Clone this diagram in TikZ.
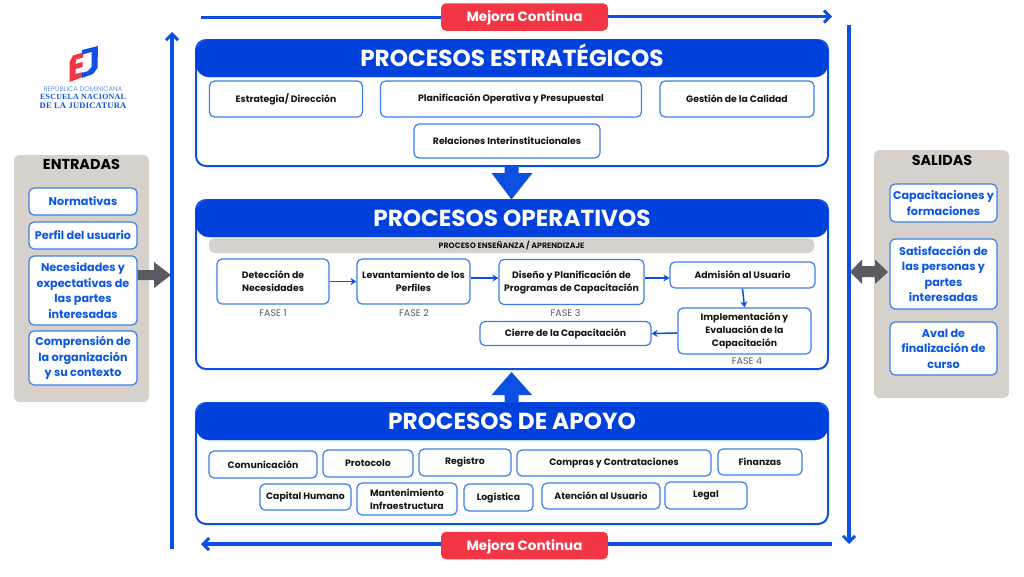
\documentclass[tikz,border=0pt]{standalone}
\usepackage{fontspec}
\setmainfont{Poppins}
\newfontfamily\logofont[LetterSpace=3]{Liberation Serif}
\definecolor{hdr}{HTML}{0041DC}
\definecolor{bord}{HTML}{0B50E2}
\definecolor{inner}{HTML}{3C7DEE}
\definecolor{graypanel}{HTML}{D6D1CB}
\definecolor{darkarrow}{HTML}{5A5A60}
\definecolor{redbtn}{HTML}{F23645}
\definecolor{bluetxt}{HTML}{0B57E3}
\definecolor{inktxt}{HTML}{151515}
\definecolor{logoblue}{HTML}{1050E0}
\usetikzlibrary{arrows.meta}
\newcommand{\hdrtext}[1]{\raisebox{-8pt}[0pt][0pt]{#1}}
\newcommand{\btntext}[1]{\raisebox{-4.7pt}[0pt][0pt]{#1}}
\tikzset{
  panel/.style={draw=bord,line width=2pt,fill=white,rounded corners=10pt,inner sep=0pt},
  header/.style={fill=hdr,text=white,inner sep=0pt,font=\fontsize{23.2}{26}\selectfont\bfseries},
  box/.style={draw=inner,line width=1.2pt,fill=white,rounded corners=5pt,inner sep=0pt,align=center,text=inktxt,font=\fontsize{9.3}{13}\selectfont\bfseries},
  sidebox/.style={draw=inner,line width=1.2pt,fill=white,rounded corners=5pt,inner sep=0pt,align=center,text=bluetxt,font=\fontsize{11.2}{15.5}\selectfont\bfseries},
  sidepanel/.style={fill=graypanel,rounded corners=6pt,inner sep=0pt},
  sidetitle/.style={text=black,inner sep=0pt,font=\fontsize{14.4}{16}\selectfont\bfseries},
  btn/.style={fill=redbtn,rounded corners=5pt,text=white,inner sep=0pt,minimum width=167pt,minimum height=27.5pt,font=\fontsize{13.5}{16}\selectfont\bfseries},
  fase/.style={text=darkarrow,inner sep=0pt,font=\fontsize{9.5}{11}\selectfont},
  flow/.style={draw=bord,line width=1.5pt,-{Stealth[length=6pt,width=7pt]}},
  loopline/.style={draw=bord,line width=3.2pt},
  looparrow/.style={draw=bord,line width=3.2pt,-{Straight Barb[length=6pt,width=12pt,line width=3pt]}},
}
\begin{document}
\begin{tikzpicture}[x=1pt,y=-1pt]
\useasboundingbox (0,0) rectangle (1024,576);
% side panels
\node[sidepanel,minimum width=135pt,minimum height=247pt] (entp) at (81.5,278.5) {};
\node[sidepanel,minimum width=135pt,minimum height=248pt] (salp) at (941.5,274) {};
\node[sidetitle] (entt) at (81.5,164.5) {ENTRADAS};
\node[sidetitle] (salt) at (942,160) {SALIDAS};
\node[sidebox,minimum width=108pt,minimum height=27pt] (e1) at (83,201.5) {Normativas};
\node[sidebox,minimum width=108pt,minimum height=27pt] (e2) at (83,235.5) {Perfil del usuario};
\node[sidebox,minimum width=108pt,minimum height=69pt] (e3) at (83,290.5) {Necesidades y\\expectativas de\\las partes\\interesadas};
\node[sidebox,minimum width=108pt,minimum height=54pt] (e4) at (83,358) {Comprensión de\\la organización\\y su contexto};
\node[sidebox,minimum width=107pt,minimum height=38pt] (s1) at (943.5,203) {Capacitaciones y\\formaciones};
\node[sidebox,minimum width=107pt,minimum height=70pt] (s2) at (943.5,274) {Satisfacción de\\las personas y\\partes\\interesadas};
\node[sidebox,minimum width=107pt,minimum height=53pt] (s3) at (943.5,348.5) {Aval de\\finalización de\\curso};
% gray arrows
\fill[darkarrow] (137.5,270) -- (154,270) -- (154,262) -- (171,275) -- (154,288) -- (154,280) -- (137.5,280) -- cycle;
\fill[darkarrow] (850,272) -- (862,259.5) -- (862,266) -- (875,266) -- (875,259.5) -- (888,272) -- (875,284) -- (875,277) -- (862,277) -- (862,284) -- cycle;
% block arrows
\fill[bord] (504.5,166) -- (518.5,166) -- (518.5,173) -- (532.5,173) -- (511.5,199.5) -- (491.5,173) -- (504.5,173) -- cycle;
\fill[bord] (504.5,403) -- (518.5,403) -- (518.5,395) -- (532,395) -- (511.5,372) -- (491.5,395) -- (504.5,395) -- cycle;
% strategic
\node[panel,minimum width=632pt,minimum height=126pt] (pe) at (512,103) {};
\node[header,rounded corners=13pt,minimum width=632pt,minimum height=37pt,fill=hdr,draw=hdr] (he) at (512,58.5) {\hdrtext{PROCESOS ESTRATÉGICOS}};
\node[box,minimum width=153pt,minimum height=36pt] (b1) at (286,99) {Estrategia/ Dirección};
\node[box,minimum width=261pt,minimum height=36pt] (b2) at (511,99) {Planificación Operativa y Presupuestal};
\node[box,minimum width=154pt,minimum height=36pt] (b3) at (737,99) {Gestión de la Calidad};
\node[box,minimum width=186pt,minimum height=34pt] (b4) at (507,141) {Relaciones Interinstitucionales};
% operative
\node[panel,minimum width=632pt,minimum height=169pt] (po) at (512,284.5) {};
\node[header,rounded corners=13pt,minimum width=632pt,minimum height=37pt,draw=hdr] (ho) at (512,218.5) {\hdrtext{PROCESOS OPERATIVOS}};
\node[fill=graypanel,rounded corners=5pt,inner sep=0pt,minimum width=605pt,minimum height=14.5pt,text=inktxt,font=\fontsize{7.8}{9}\selectfont\bfseries] (bar) at (511.5,245.5) {PROCESO ENSEÑANZA / APRENDIZAJE};
\node[box,minimum width=112pt,minimum height=45pt] (o1) at (273,281.5) {Detección de\\Necesidades};
\node[box,minimum width=113pt,minimum height=45pt] (o2) at (413.5,281.5) {Levantamiento de los\\Perfiles};
\node[box,minimum width=145pt,minimum height=45pt] (o3) at (571.5,282) {Diseño y Planificación de\\Programas de Capacitación};
\node[box,minimum width=145pt,minimum height=26pt] (o4) at (742.5,275) {Admisión al Usuario};
\node[box,minimum width=133pt,minimum height=46pt] (o5) at (744.5,331) {Implementación y\\Evaluación de la\\Capacitación};
\node[box,minimum width=171pt,minimum height=24pt] (o6) at (565.5,333.5) {Cierre de la Capacitación};
\node[fase] (f1) at (273,313) {FASE 1};
\node[fase] (f2) at (414,313.5) {FASE 2};
\node[fase] (f3) at (565.5,313.5) {FASE 3};
\node[fase] (f4) at (747,361.5) {FASE 4};
\draw[flow] (o1.east) -- (o2.west);
\draw[flow] ([yshift=3.5pt]o2.east) -- ([yshift=4pt]o3.west);
\draw[flow] ([yshift=4pt]o3.east) -- ([yshift=-3pt]o4.west);
\draw[flow] (o4.south) -- (o5.north);
\draw[flow] ([yshift=-2pt]o5.west) -- (o6.east);
% support
\node[panel,minimum width=632pt,minimum height=121pt] (pa) at (512,463.5) {};
\node[header,rounded corners=13pt,minimum width=632pt,minimum height=37pt,draw=hdr] (ha) at (512,421.5) {\hdrtext{PROCESOS DE APOYO}};
\node[box,minimum width=108pt,minimum height=27pt] (a1) at (263,464.5) {Comunicación};
\node[box,minimum width=90pt,minimum height=27pt] (a2) at (368,463.5) {Protocolo};
\node[box,minimum width=92pt,minimum height=27pt] (a3) at (465,462.5) {Registro};
\node[box,minimum width=194pt,minimum height=26pt] (a4) at (614,463) {Compras y Contrataciones};
\node[box,minimum width=84pt,minimum height=26pt] (a5) at (760,462) {Finanzas};
\node[box,minimum width=91pt,minimum height=26pt] (a6) at (305.5,497) {Capital Humano};
\node[box,minimum width=100pt,minimum height=32pt] (a7) at (407,499) {Mantenimiento\\Infraestructura};
\node[box,minimum width=69pt,minimum height=27pt] (a8) at (498.5,497.5) {Logística};
\node[box,minimum width=118pt,minimum height=26pt] (a9) at (601,496) {Atención al Usuario};
\node[box,minimum width=82pt,minimum height=27pt] (a10) at (706,495.5) {Legal};
% improvement loop
\node[btn] (mt) at (524.5,17) {\btntext{Mejora Continua}};
\node[btn] (mb) at (524.5,545.5) {\btntext{Mejora Continua}};
\coordinate (tl) at (201,17.5);
\coordinate (tr) at (832,16.5);
\coordinate (bl) at (201,544);
\coordinate (br) at (832,544);
\coordinate (lb) at (172,549);
\coordinate (lt) at (172,32);
\coordinate (rt) at (849,25);
\coordinate (rb) at (849,544);
\draw[loopline] (tl) -- (mt.west |- tl);
\draw[looparrow] (mt.east |- tr) -- (tr);
\draw[loopline] (br) -- (mb.east |- br);
\draw[looparrow] (mb.west |- bl) -- (bl);
\draw[looparrow] (lb) -- (lt);
\draw[looparrow] (rt) -- (rb);
% logo
\fill[redbtn] (69.5,62) -- (73,55.5) -- (83,52.5) -- (83,57.5) -- (76,59.5) -- (75.5,64) -- (82.5,62) -- (82.5,67) -- (75.5,69) -- (75.5,74) -- (83,72) -- (82.5,77) -- (69.5,82) -- cycle;
\fill[logoblue] (82,50) -- (98,46) -- (97.5,68) -- (93,74) -- (82,78) -- (82,73) -- (88,71) -- (91.5,67) -- (91.5,52) -- (82,54.5) -- cycle;
\node[inner sep=0pt,text=inner!80!white,font=\fontsize{6.7}{8}\selectfont] (l1) at (83,88) {REPÚBLICA DOMINICANA};
\node[inner sep=0pt,text=logoblue,font=\logofont\fontsize{7.9}{9}\selectfont\bfseries] (l2) at (83,96.5) {ESCUELA NACIONAL};
\node[inner sep=0pt,text=logoblue,font=\logofont\fontsize{8.5}{9}\selectfont\bfseries] (l3) at (83,106) {DE LA JUDICATURA};
\end{tikzpicture}
\end{document}
